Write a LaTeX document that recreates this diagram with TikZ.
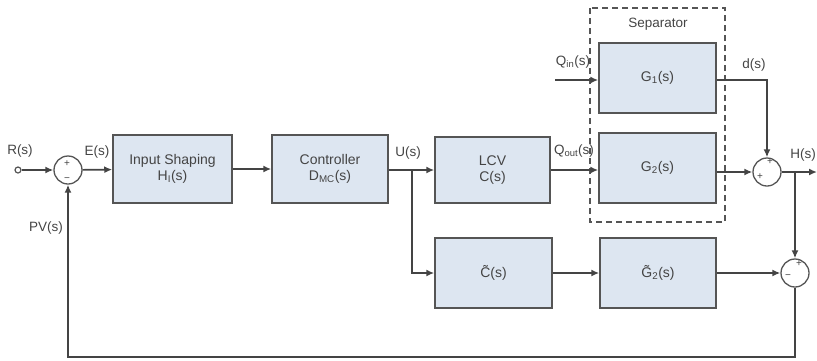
\documentclass[tikz,border=0pt]{standalone}
\usepackage{fontspec}
\setmainfont{Liberation Sans}
\usetikzlibrary{arrows.meta}
\definecolor{boxfill}{HTML}{DDE6F1}
\definecolor{edge}{HTML}{555555}
\definecolor{txt}{HTML}{444444}
\newcommand{\sbs}[1]{\textsubscript{#1}}
\begin{document}
\begin{tikzpicture}[x=1pt,y=-1pt,
  font=\fontsize{14}{16}\selectfont, text=txt,
  blk/.style={draw=edge, line width=1.5pt, fill=boxfill, minimum width=116pt, minimum height=68pt, align=center, inner sep=0pt},
  sumj/.style={circle, draw=edge, line width=1.3pt, fill=white, minimum size=28pt, inner sep=0pt},
  wire/.style={draw=edge!80!black, line width=1.7pt},
  arr/.style={wire, -{Latex[length=8pt,width=7pt]}},
  lbl/.style={font=\fontsize{13.5}{15}\selectfont, inner sep=0pt},
  sgn/.style={font=\fontsize{10}{10}\selectfont, inner sep=0pt}]
\useasboundingbox (0,0) rectangle (817,360);
% separator frame
\draw[edge, line width=1.5pt, dash pattern=on 6pt off 4pt] (590,8) rectangle (725,222);
\node[lbl] (seplbl) at (658,24) {Separator};
% input terminal
\node[circle, draw=edge, line width=1.2pt, fill=white, minimum size=6pt, inner sep=0pt] (rin) at (18,170) {};
% summing junctions
\node[sumj] (s1) at (68,170) {};
\node[sumj] (s2) at (767,172) {};
\node[sumj] (s3) at (795,273) {};
% blocks
\node[blk, minimum width=119pt] (shp) at (172.5,169) {Input Shaping\\H\sbs{I}(s)};
\node[blk] (ctl) at (330,169) {Controller\\D\sbs{MC}(s)};
\node[blk, minimum width=115pt, minimum height=66pt] (lcv) at (492.5,170) {LCV\\C(s)};
\node[blk, minimum width=117pt, minimum height=70pt] (g1) at (657.5,78) {G\sbs{1}(s)};
\node[blk, minimum width=117pt, minimum height=70pt] (g2) at (657.5,168) {G\sbs{2}(s)};
\node[blk, minimum width=117pt, minimum height=70pt] (ct) at (493.5,273) {\~{C}(s)};
\node[blk, minimum width=116pt, minimum height=70pt] (gt) at (658,273) {\~{G}\sbs{2}(s)};
% coordinates
\coordinate (qin) at (555,80);
\coordinate (ubr) at (412,170);
\coordinate (hbr) at (795,172);
\coordinate (hout) at (817,172);
% connectors
\draw[arr] (rin) -- (s1);
\draw[arr] (s1) -- (shp);
\draw[arr] (shp) -- (ctl);
\draw[arr] (ctl.east |- lcv.west) -- (lcv);
\draw[arr] (lcv.east) -- (lcv.east -| g2.west);
\draw[arr] (qin) -- (qin -| g1.west);
\draw[arr] (g1.east |- qin) -| (s2.north);
\draw[arr] (g2.east |- s2.west) -- (s2.west);
\draw[arr] (s2.east) -- (hout);
\draw[arr] (hbr) -- (s3.north);
\draw[arr] (ubr) |- (ct.west);
\draw[arr] (ct) -- (gt);
\draw[arr] (gt) -- (s3);
\draw[arr] (s3.south) |- (68,357) -- (s1.south);
% signs
\node[sgn] (p1) at (67,164) {+};
\node[sgn] (m1) at (67,180) {−};
\node[sgn] (p2) at (770,162) {+};
\node[sgn] (p3) at (760,177) {+};
\node[sgn] (p4) at (799,264) {+};
\node[sgn] (m3) at (788,277) {−};
% labels
\node[lbl] (lr) at (20,151) {R(s)};
\node[lbl] (le) at (97,152) {E(s)};
\node[lbl] (lpv) at (46,228) {PV(s)};
\node[lbl] (lu) at (408,153) {U(s)};
\node[lbl] (lqin) at (573,62) {Q\sbs{in}(s)};
\node[lbl] (lqout) at (574,151) {Q\sbs{out}(s)};
\node[lbl] (ld) at (754,65) {d(s)};
\node[lbl, anchor=east] (lh) at (816,155) {H(s)};
\end{tikzpicture}
\end{document}
